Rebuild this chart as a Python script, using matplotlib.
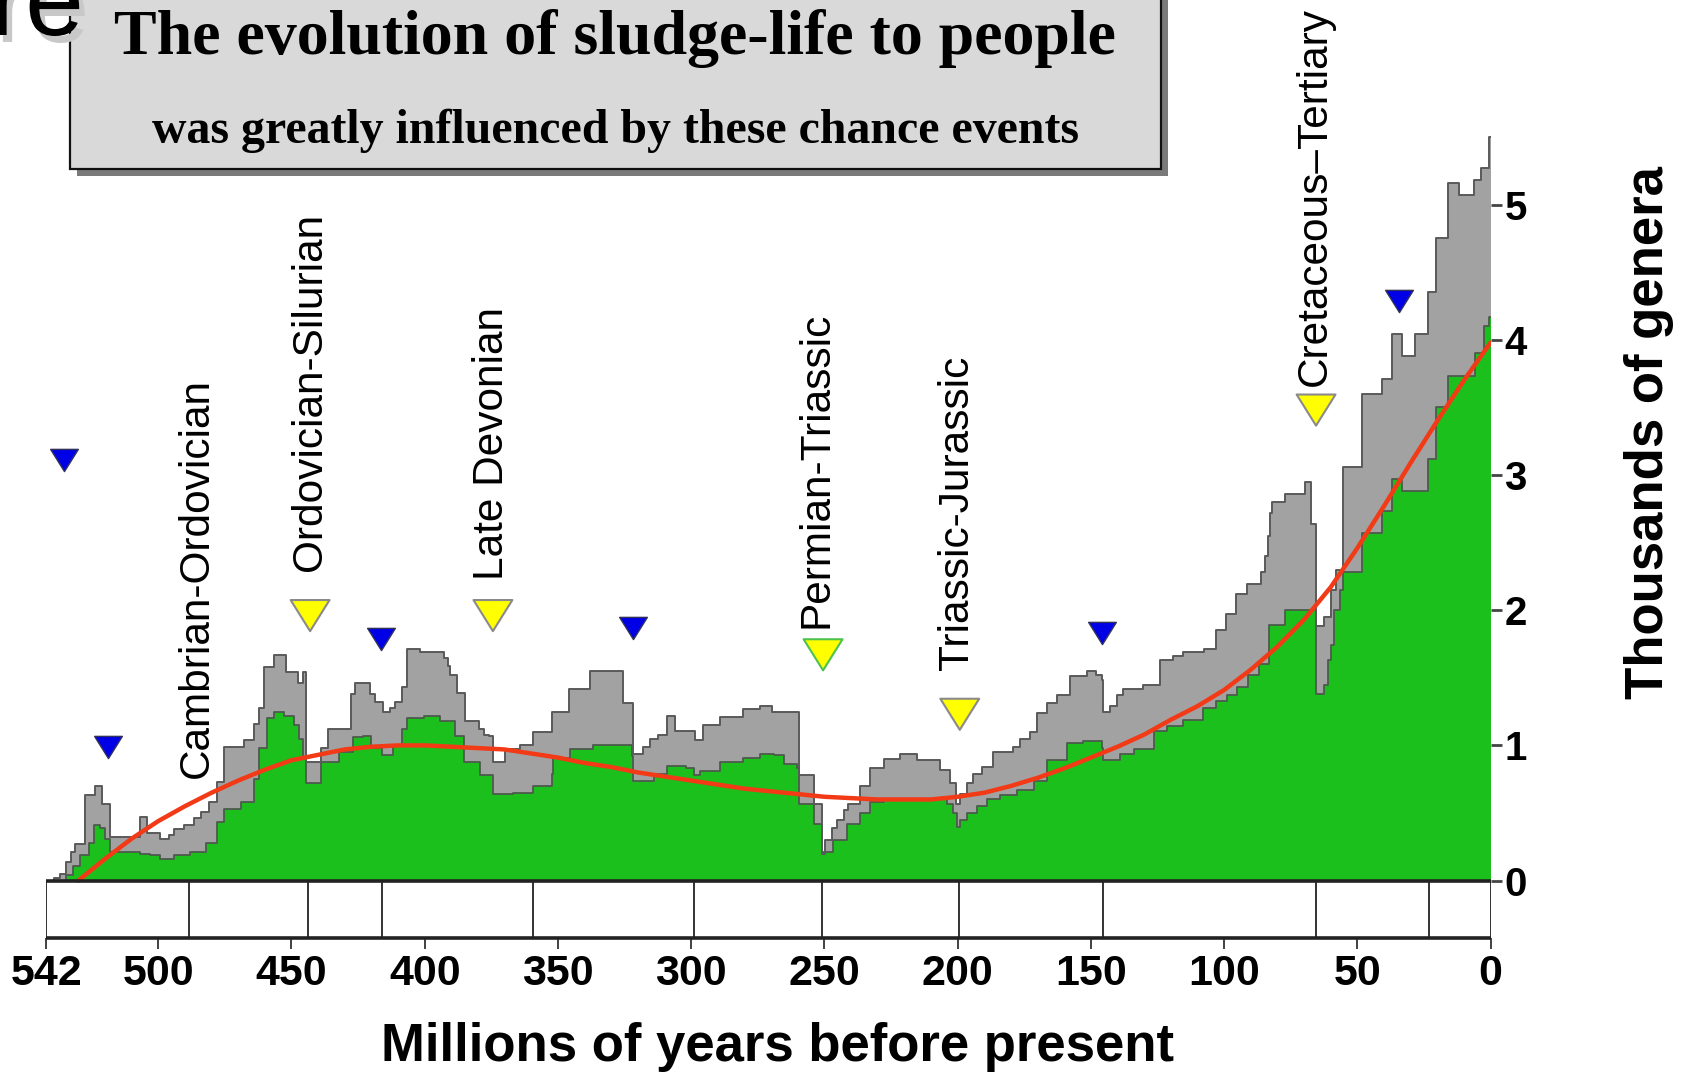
import numpy as np
import matplotlib
matplotlib.use('Agg')
import matplotlib.pyplot as plt
from matplotlib.patches import Rectangle
from matplotlib.path import Path
import matplotlib.patheffects as pe

# Total genera (gray), step values start at each age (Ma)
gray_age = [542, 539, 537, 534.5, 532.6, 531.3, 527.5, 523.8, 521.2, 518.1, 506.8, 504.3, 499.2, 496.0,
            494.2, 490.4, 486.7, 484.1, 481.0, 477.8, 475.3, 467.8, 464.0, 462.1, 460.2, 456.5, 452.1,
            447.7, 445.8, 444.5, 438.9, 436.3, 427.5, 426.3, 420.6, 418.7, 415.6, 413.0, 411.2, 408.7,
            406.7, 401.7, 392.9, 391.1, 390.4, 387.9, 384.8, 379.8, 377.9, 376.0, 374.2, 369.8, 364.2,
            359.2, 352.3, 346.0, 338.0, 325.4, 321.9, 317.9, 315.4, 312.3, 309.1, 306.0, 298.5, 295.4,
            289.1, 280.4, 274.1, 269.7, 259.7, 253.8, 251.0, 249.7, 247.2, 245.3, 242.8, 241.0, 236.6,
            232.8, 227.8, 221.6, 215.3, 206.6, 202.8, 200.5, 199.0, 196.6, 194.1, 190.9, 186.6, 179.1,
            176.5, 172.8, 170.3, 166.5, 162.8, 157.8, 151.5, 148.0, 145.9, 145.3, 142.8, 140.3, 137.8,
            130.3, 124.0, 119.0, 115.4, 107.4, 103.0, 99.4, 95.7, 91.4, 86.0, 84.5, 83.5, 82.7, 82.0,
            77.2, 69.8, 67.3, 65.6, 62.5, 60.0, 58.0, 55.5, 48.1, 40.7, 37.0, 33.3, 28.4, 23.5, 20.4,
            16.0, 11.7, 6.2, 3.7, 0.6, 0.0]
gray_val = [0.0, 0.02, 0.05, 0.14, 0.21, 0.27, 0.63, 0.70, 0.57, 0.32, 0.47, 0.35, 0.31, 0.34,
            0.38, 0.41, 0.46, 0.51, 0.58, 0.73, 0.99, 1.04, 1.16, 1.28, 1.58, 1.67, 1.54,
            1.46, 1.54, 0.88, 0.98, 1.12, 1.38, 1.46, 1.38, 1.32, 1.25, 1.28, 1.32, 1.43,
            1.71, 1.69, 1.65, 1.59, 1.52, 1.39, 1.18, 1.12, 1.08, 1.07, 0.88, 0.97, 1.00,
            1.10, 1.25, 1.42, 1.55, 1.31, 0.94, 0.99, 1.05, 1.08, 1.22, 1.11, 1.04, 1.15,
            1.21, 1.27, 1.29, 1.25, 0.78, 0.57, 0.20, 0.30, 0.39, 0.45, 0.52, 0.57, 0.70,
            0.83, 0.90, 0.94, 0.89, 0.82, 0.72, 0.57, 0.64, 0.72, 0.79, 0.84, 0.95, 0.99,
            1.05, 1.10, 1.24, 1.31, 1.37, 1.51, 1.55, 1.52, 1.48, 1.25, 1.29, 1.37, 1.42,
            1.45, 1.63, 1.66, 1.69, 1.71, 1.85, 1.97, 2.12, 2.19, 2.28, 2.40, 2.55, 2.72, 2.80,
            2.86, 2.95, 2.64, 1.88, 1.95, 2.15, 2.30, 3.06, 3.60, 3.71, 4.04, 3.88, 4.04, 4.35, 4.75,
            5.16, 5.07, 5.18, 5.27, 5.50, 5.50]

# Well-resolved genera (green)
green_age = [542, 537, 534.5, 532.0, 529.5, 526.0, 524.0, 522.0, 520.0, 518.1, 507.0, 503.0, 499.2,
             494.2, 488.0, 482.0, 478.0, 475.3, 469.0, 464.0, 462.1, 459.0, 456.5, 452.9, 449.0,
             447.0, 445.8, 444.5, 438.9, 432.0, 427.0, 423.0, 420.0, 416.0, 412.0, 408.7, 406.7,
             400.4, 394.2, 388.6, 385.4, 379.2, 374.2, 366.7, 359.2, 352.3, 351.7, 345.4, 336.7,
             326.6, 322.3, 321.9, 314.1, 309.1, 302.0, 299.1, 296.6, 289.1, 280.4, 274.1, 269.1,
             265.3, 260.3, 259.7, 253.8, 251.0, 246.6, 241.6, 236.6, 232.8, 227.8, 209.0, 204.0,
             201.6, 200.3, 199.0, 196.6, 192.8, 189.1, 184.1, 177.8, 171.5, 166.5, 159.0, 152.8,
             146.0, 145.3, 139.0, 134.0, 126.5, 121.5, 115.3, 108.0, 103.0, 99.0, 95.0, 91.0, 87.0,
             83.3, 77.2, 67.0, 65.6, 62.5, 61.0, 60.0, 58.6, 56.5, 55.5, 48.1, 40.7, 37.0, 33.3,
             23.5, 20.4, 16.0, 10.0, 6.0, 2.5, 0.6, 0.0]
green_val = [0.0, 0.0, 0.04, 0.11, 0.19, 0.28, 0.41, 0.39, 0.31, 0.21, 0.20, 0.19, 0.16,
             0.19, 0.21, 0.28, 0.43, 0.53, 0.58, 0.75, 0.98, 1.20, 1.25, 1.22, 1.15,
             1.05, 0.90, 0.72, 0.88, 0.95, 1.06, 1.07, 0.98, 0.93, 1.00, 1.12, 1.20,
             1.22, 1.18, 1.07, 0.88, 0.78, 0.64, 0.65, 0.70, 0.79, 0.91, 0.97, 1.00,
             1.00, 0.92, 0.74, 0.79, 0.85, 0.83, 0.78, 0.81, 0.88, 0.91, 0.94, 0.93,
             0.86, 0.83, 0.57, 0.42, 0.21, 0.30, 0.42, 0.50, 0.58, 0.60, 0.60, 0.57,
             0.50, 0.40, 0.45, 0.50, 0.55, 0.60, 0.63, 0.67, 0.74, 0.89, 1.02, 1.03,
             0.98, 0.89, 0.94, 0.97, 1.11, 1.14, 1.19, 1.28, 1.33, 1.37, 1.43, 1.52, 1.60,
             1.89, 2.00, 2.00, 1.38, 1.45, 1.63, 1.74, 2.00, 2.15, 2.28, 2.57, 2.73, 2.97, 2.88,
             3.12, 3.50, 3.73, 3.73, 3.90, 4.10, 4.17, 4.17]

# Smoothed trend (red)
red_age = [530, 520, 510, 500, 490, 480, 470, 460, 450, 440, 430, 420, 410, 400, 390, 380, 370,
           360, 350, 340, 330, 320, 310, 300, 290, 280, 270, 260, 250, 240, 230, 220, 210, 200,
           190, 180, 170, 160, 150, 140, 130, 120, 110, 100, 90, 80, 70, 60, 50, 40, 30, 20, 10, 0]
red_val = [0.0, 0.16, 0.31, 0.44, 0.55, 0.65, 0.74, 0.82, 0.89, 0.93, 0.97, 0.99, 1.0, 1.0, 0.99,
           0.98, 0.97, 0.94, 0.91, 0.87, 0.84, 0.80, 0.77, 0.74, 0.71, 0.68, 0.66, 0.64, 0.62, 0.61,
           0.60, 0.60, 0.60, 0.62, 0.65, 0.70, 0.76, 0.83, 0.91, 0.99, 1.08, 1.19, 1.29, 1.41, 1.56,
           1.73, 1.93, 2.17, 2.46, 2.77, 3.09, 3.40, 3.70, 3.98]

# Mass extinctions (yellow) and minor events (blue)
major_age = [443, 374.4, 250.5, 199.2, 65.5]
major_y = [1.96, 1.96, 1.67, 1.23, 3.48]
major_edge = ['#8a8a8a', '#8a8a8a', '#4cc24c', '#8a8a8a', '#8a8a8a']
minor_age = [535.2, 519, 416.3, 322, 146, 34.4]
minor_y = [3.11, 0.99, 1.79, 1.87, 1.83, 4.29]

event_names = ['Cambrian-Ordovician', 'Ordovician-Silurian', 'Late Devonian',
               'Permian-Triassic', 'Triassic-Jurassic', 'Cretaceous\u2013Tertiary']
event_age = [485.4, 443, 374.6, 252.8, 200.2, 65.9]
event_base = [0.76, 2.29, 2.22, 1.87, 1.56, 3.66]

period_bounds = [542, 488.3, 443.7, 416, 359.2, 299, 251, 199.6, 145.5, 65.5, 23, 0]
xticks = [542, 500, 450, 400, 350, 300, 250, 200, 150, 100, 50, 0]
yticks = [0, 1, 2, 3, 4, 5]

W, H = 1690, 1076
fig = plt.figure(figsize=(W / 100, H / 100), dpi=100)
# axes in pixel terms: age 542 -> x 46, age 0 -> x 1491, value 0 -> y 881 from top
ax = fig.add_axes([46.3 / W, (H - 937.7) / H, 1444.3 / W, 937.7 / H])
ax.set_xlim(542, 0)
ax.set_ylim(-0.4223, 6.513)
ax.patch.set_alpha(0)
for s in ax.spines.values():
    s.set_visible(False)

ax.fill_between(gray_age, gray_val, 0, step='post', color='#a2a2a2', lw=0, zorder=1)
ax.fill_between(green_age, green_val, 0, step='post', color='#1cc01c', lw=0, zorder=2)
ax.step(green_age, green_val, where='post', color='#4d5a4d', lw=1.3, zorder=3)
ax.step(gray_age, gray_val, where='post', color='#5a5a5a', lw=1.4, zorder=3)
ax.plot(red_age, red_val, color='#f23a16', lw=3.2, zorder=4, solid_capstyle='round')

# period strip under the plot
ax.hlines([0, -0.4223], 542, 0, color='#222222', lw=2.6, zorder=5, clip_on=False)
ax.vlines(period_bounds, -0.4223, 0, color='#222222', lw=1.3, zorder=5)

tri = Path([(-1, 0.8), (1, 0.8), (0, -0.8), (-1, 0.8)],
           [Path.MOVETO, Path.LINETO, Path.LINETO, Path.CLOSEPOLY])
ax.scatter(major_age, major_y, marker=tri, s=28 ** 2, c='#ffff00', edgecolors=major_edge,
           linewidths=1.5, zorder=6, clip_on=False)
ax.scatter(minor_age, minor_y, marker=tri, s=20 ** 2, c='#0000e6', edgecolors='#33335a',
           linewidths=1.0, zorder=6, clip_on=False)

for name, a, b in zip(event_names, event_age, event_base):
    ax.text(a, b, name, rotation=90, ha='center', va='bottom', fontsize=30.5,
            family='Liberation Sans', color='black', zorder=7, clip_on=False)

ax.set_xticks(xticks)
ax.set_xticklabels([str(t) for t in xticks])
ax.yaxis.tick_right()
ax.set_yticks(yticks)
ax.set_yticklabels([str(t) for t in yticks])
ax.tick_params(axis='x', direction='out', length=8, width=1.3, color='#333333', pad=4,
               labelsize=31)
ax.tick_params(axis='y', direction='out', length=8, width=2, color='#444444', pad=2,
               labelsize=29)
for lab in ax.get_xticklabels() + ax.get_yticklabels():
    lab.set_fontfamily('Liberation Sans')
    lab.set_fontweight('bold')

fig.text(778 / W, 1 - 1047 / H, 'Millions of years before present', ha='center', va='center',
         fontsize=38, fontweight='bold', family='Liberation Sans')
fig.text(1649 / W, 1 - 433 / H, 'Thousands of genera', rotation=90, ha='center', va='center',
         fontsize=38, fontweight='bold', family='Liberation Sans')

# word of the slide title peeking out behind the box
fig.text(-10 / W, 1 - 35 / H, 're', fontsize=76, family='Liberation Sans', va='baseline',
         ha='left', color='black',
         path_effects=[pe.SimplePatchShadow(offset=(4, -5), shadow_rgbFace='#c8c8c8', alpha=1.0),
                       pe.Normal()])

# title box with shadow
bx0, bx1, by1 = 70 / W, 1161 / W, (H - 169) / H
fig.add_artist(Rectangle((bx0 + 7 / W, by1 - 7 / H), bx1 - bx0, 1.1 - by1,
                         transform=fig.transFigure, facecolor='#7a7a7a', edgecolor='none'))
fig.add_artist(Rectangle((bx0, by1), bx1 - bx0, 1.1 - by1, transform=fig.transFigure,
                         facecolor='#d9d9d9', edgecolor='#111111', lw=1.6))
fig.text(615 / W, 1 - 38 / H, 'The evolution of sludge-life to people', ha='center', va='center',
         fontsize=46, fontweight='bold', family='Liberation Serif')
fig.text(615 / W, 1 - 131 / H, 'was greatly influenced by these chance events', ha='center',
         va='center', fontsize=34.5, fontweight='bold', family='Liberation Serif')

fig.savefig('out.png', dpi=100)
